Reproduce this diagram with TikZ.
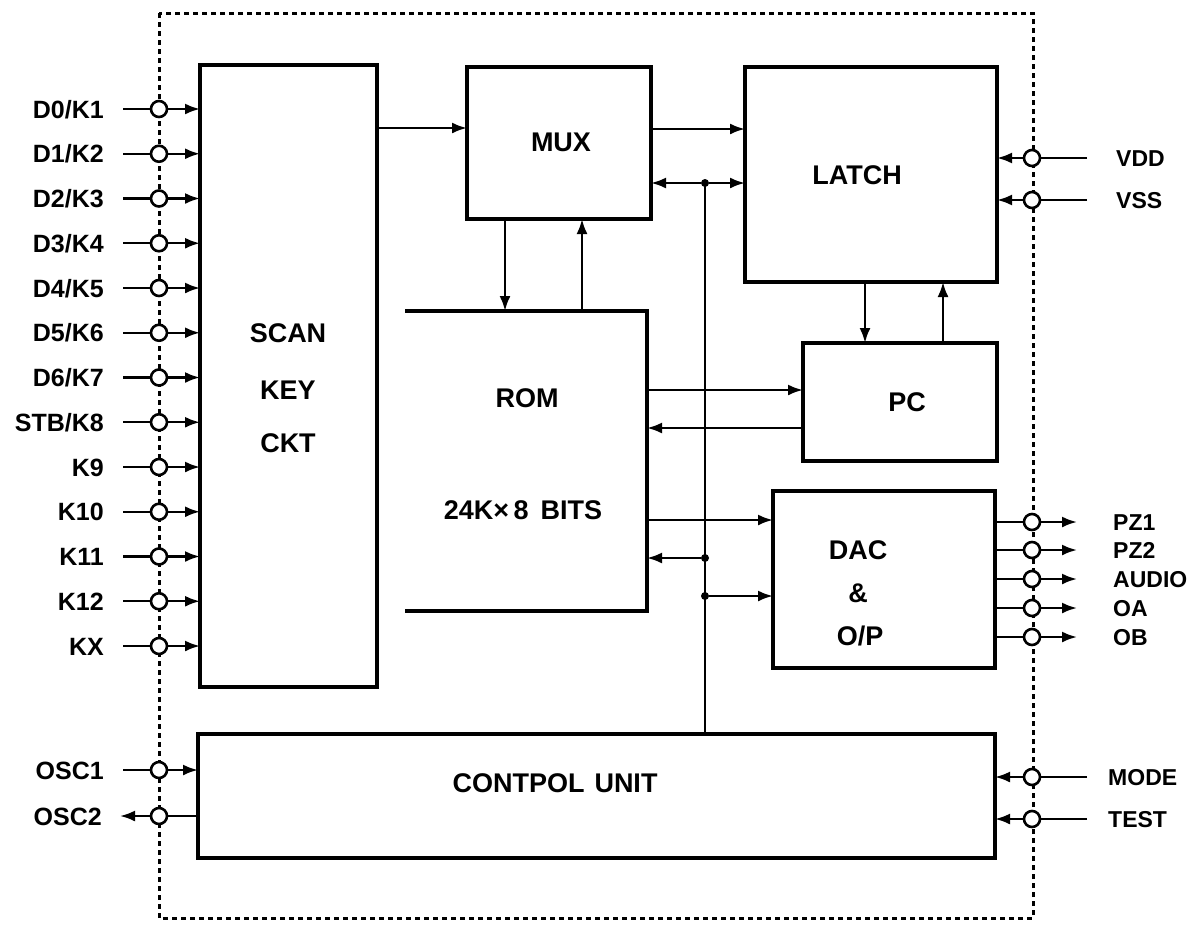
\documentclass[tikz,border=0pt]{standalone}
\usepackage{fontspec}
\setmainfont{Liberation Sans}
\usetikzlibrary{arrows.meta,calc}
\begin{document}
\begin{tikzpicture}[x=1pt,y=-1pt,
  box/.style={draw,line width=3.2pt,inner sep=0pt,outer sep=0pt,anchor=north west},
  wire/.style={line width=2.4pt},
  arr/.style={wire,-{Latex[length=15pt,width=11pt]}},
  pinc/.style={circle,draw,line width=2.6pt,fill=white,minimum size=16pt,inner sep=0pt,outer sep=0pt},
  lbl/.style={font=\fontsize{25}{25}\selectfont\bfseries,inner sep=0pt,text height=18pt,text depth=0pt},
  rlbl/.style={font=\fontsize{23}{23}\selectfont\bfseries,inner sep=0pt,text height=16.5pt,text depth=0pt,anchor=west},
  blk/.style={font=\fontsize{27}{27}\selectfont\bfseries,inner sep=0pt,text height=19.5pt,text depth=0pt},
  jdot/.style={circle,fill,minimum size=8pt,inner sep=0pt,outer sep=0pt},
  border/.style={line width=3pt,dash pattern=on 5pt off 4pt}]

\useasboundingbox (0,0) rectangle (1188,924);
\draw[border] (159,13) rectangle (1033,918);

% blocks
\node[box,minimum width=177pt,minimum height=622pt] (scan) at (200,65) {};
\node[box,minimum width=184pt,minimum height=152pt] (mux) at (467,67) {};
\node[box,minimum width=252pt,minimum height=215pt] (latch) at (745,67) {};
\node[box,draw=none,minimum width=242pt,minimum height=300pt] (rom) at (405,311) {};
\draw[line width=3.2pt] (rom.north west) -- (rom.north east) -- (rom.south east) -- (rom.south west);
\node[box,minimum width=194pt,minimum height=118pt] (pc) at (803,343) {};
\node[box,minimum width=222pt,minimum height=177pt] (dac) at (773,491) {};
\node[box,minimum width=797pt,minimum height=124pt] (ctrl) at (198,734) {};

% block texts
\node[blk] (tscan) at (288,333) {SCAN};
\node[blk] (tkey) at (288,390) {KEY};
\node[blk] (tckt) at (288,443) {CKT};
\node[blk] (tmux) at (561,142) {MUX};
\node[blk] (tlatch) at (857,175) {LATCH};
\node[blk] (trom) at (527,398) {ROM};
\node[blk] (tbits) at (523,510) {24K×\,8\hspace{12pt}BITS};
\node[blk] (tpc) at (907,402) {PC};
\node[blk] (tdac) at (858,550) {DAC};
\node[blk] (tamp) at (858,593) {\&};
\node[blk] (top) at (860,636) {O/P};
\node[blk] (tctrl) at (555,783) {CONTPOL\hspace{10pt}UNIT};

% internal connectors
\coordinate (ya) at (0,128);
\draw[arr] (scan.east |- ya) -- (mux.west |- ya);
\coordinate (yb) at (0,129);
\draw[arr] (mux.east |- yb) -- (latch.west |- yb);
\node[jdot] (j1) at (705,183) {};
\draw[arr] (j1) -- (mux.east |- j1);
\draw[arr] (j1) -- (latch.west |- j1);
\draw[wire] (j1.center) -- (j1 |- ctrl.north);
\coordinate (xa) at (505,0);
\draw[arr] (xa |- mux.south) -- (xa |- rom.north);
\coordinate (xb) at (582,0);
\draw[arr] (xb |- rom.north) -- (xb |- mux.south);
\coordinate (xc) at (865,0);
\draw[arr] (xc |- latch.south) -- (xc |- pc.north);
\coordinate (xd) at (943,0);
\draw[arr] (xd |- pc.north) -- (xd |- latch.south);
\coordinate (yc) at (0,390);
\draw[arr] (rom.east |- yc) -- (pc.west |- yc);
\coordinate (yd) at (0,428);
\draw[arr] (pc.west |- yd) -- (rom.east |- yd);
\coordinate (ye) at (0,520);
\draw[arr] (rom.east |- ye) -- (dac.west |- ye);
\node[jdot] (j2) at (705,558) {};
\draw[arr] (j2) -- (rom.east |- j2);
\node[jdot] (j3) at (705,596) {};
\draw[arr] (j3) -- (dac.west |- j3);

% left pins
\foreach \t [count=\i from 0] in {{D0/K1},{D1/K2},{D2/K3},{D3/K4},{D4/K5},{D5/K6},{D6/K7},{STB/K8},{K9},{K10},{K11},{K12},{KX}} {
  \pgfmathsetmacro\yy{109+44.75*\i}
  \node[pinc] (lp\i) at (159,\yy) {};
  \coordinate (ls\i) at (123,\yy);
  \draw[wire] (ls\i) -- (lp\i);
  \draw[arr] (lp\i) -- (scan.west |- lp\i);
  \node[lbl,anchor=east] (ll\i) at (104,\yy) {\t};
}

% OSC pins
\node[pinc] (po1) at (159,770) {};
\coordinate (so1) at (123,770);
\draw[wire] (so1) -- (po1);
\draw[arr] (po1) -- (ctrl.west |- po1);
\node[lbl,anchor=east] (lo1) at (104,770) {OSC1};
\node[pinc] (po2) at (159,816) {};
\coordinate (so2) at (120,816);
\draw[wire] (ctrl.west |- po2) -- (po2);
\draw[arr] (po2) -- (so2);
\node[lbl,anchor=east] (lo2) at (102,816) {OSC2};

% right power pins
\foreach \t/\yy/\nm in {VDD/158/vdd,VSS/200/vss} {
  \node[pinc] (p\nm) at (1032,\yy) {};
  \coordinate (s\nm) at (1087,\yy);
  \draw[wire] (s\nm) -- (p\nm);
  \draw[arr] (p\nm) -- (latch.east |- p\nm);
  \node[rlbl] (l\nm) at (1116,\yy) {\t};
}

% DAC outputs
\foreach \t/\yy/\nm in {PZ1/522/pza,PZ2/550/pzb,AUDIO/579/aud,OA/608/oa,OB/637/ob} {
  \node[pinc] (p\nm) at (1032,\yy) {};
  \coordinate (s\nm) at (1077,\yy);
  \draw[wire] (dac.east |- p\nm) -- (p\nm);
  \draw[arr] (p\nm) -- (s\nm);
  \node[rlbl] (l\nm) at (1113,\yy) {\t};
}

% control inputs
\foreach \t/\yy/\nm in {MODE/777/mode,TEST/819/test} {
  \node[pinc] (p\nm) at (1032,\yy) {};
  \coordinate (s\nm) at (1087,\yy);
  \draw[wire] (s\nm) -- (p\nm);
  \draw[arr] (p\nm) -- (ctrl.east |- p\nm);
  \node[rlbl] (l\nm) at (1108,\yy) {\t};
}
\end{tikzpicture}
\end{document}
